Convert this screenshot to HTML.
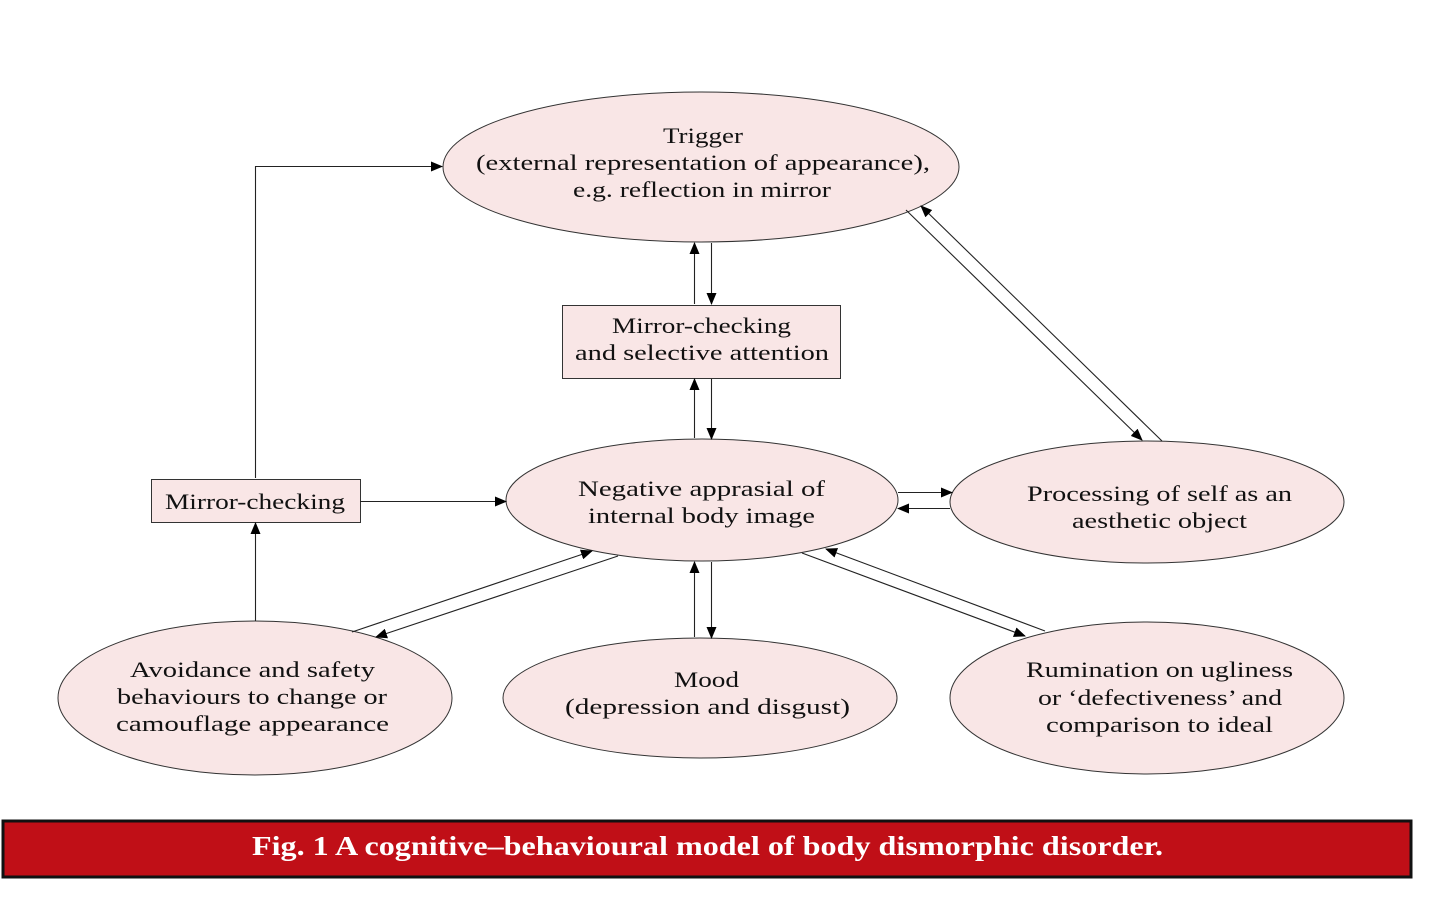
<!DOCTYPE html>
<html><head><meta charset="utf-8"><style>
html,body{margin:0;padding:0;background:#fff;}
svg{display:block;}
text{font-family:"Liberation Serif",serif;font-size:22px;fill:#111;}
</style></head><body>
<svg width="1456" height="913" viewBox="0 0 1456 913" xmlns="http://www.w3.org/2000/svg">
<defs>
<marker id="a" markerWidth="12" markerHeight="10" refX="11" refY="5" orient="auto" markerUnits="userSpaceOnUse">
<path d="M0,0 L12,5 L0,10 z" fill="#000"/></marker>
</defs>
<g fill="#f9e6e6" stroke="#333" stroke-width="1">
<ellipse cx="701" cy="167" rx="258" ry="75"/>
<ellipse cx="702" cy="500" rx="196" ry="61"/>
<ellipse cx="1147" cy="502" rx="197" ry="61"/>
<ellipse cx="255" cy="698" rx="197" ry="77"/>
<ellipse cx="700" cy="698" rx="197" ry="60"/>
<ellipse cx="1147" cy="698" rx="197" ry="76"/>
<rect x="562.5" y="305.5" width="278" height="73"/>
<rect x="151.5" y="479.5" width="209" height="43"/>
</g>
<g stroke="#222" stroke-width="1.1" fill="none" marker-end="url(#a)">
<path d="M255.5,478 V166.5 H442"/>
<path d="M360,501.5 H506"/>
<path d="M255.5,621 V523"/>
<path d="M694.5,304 V243"/>
<path d="M711.5,243 V304"/>
<path d="M694.5,438 V379"/>
<path d="M711.5,379 V439"/>
<path d="M898,492.5 H952"/>
<path d="M950,508.5 H898"/>
<path d="M694.5,637 V562"/>
<path d="M711.5,562 V638"/>
<path d="M352,632 L592,551"/>
<path d="M618,556 L376,637"/>
<path d="M802,553 L1025,636"/>
<path d="M1045,631 L826,549"/>
<path d="M906,210 L1142,440"/>
<path d="M1162,441 L921,206"/>
</g>
<g lengthAdjust="spacingAndGlyphs">
<text x="663" y="143" textLength="80" lengthAdjust="spacingAndGlyphs">Trigger</text>
<text x="476" y="170" textLength="454" lengthAdjust="spacingAndGlyphs">(external representation of appearance),</text>
<text x="573" y="197" textLength="258" lengthAdjust="spacingAndGlyphs">e.g. reflection in mirror</text>
<text x="612" y="333" textLength="179" lengthAdjust="spacingAndGlyphs">Mirror-checking</text>
<text x="575" y="360" textLength="254" lengthAdjust="spacingAndGlyphs">and selective attention</text>
<text x="165" y="509" textLength="180" lengthAdjust="spacingAndGlyphs">Mirror-checking</text>
<text x="578" y="496" textLength="247" lengthAdjust="spacingAndGlyphs">Negative apprasial of</text>
<text x="588" y="523" textLength="227" lengthAdjust="spacingAndGlyphs">internal body image</text>
<text x="1027" y="501" textLength="265" lengthAdjust="spacingAndGlyphs">Processing of self as an</text>
<text x="1072" y="528" textLength="175" lengthAdjust="spacingAndGlyphs">aesthetic object</text>
<text x="130" y="677" textLength="245" lengthAdjust="spacingAndGlyphs">Avoidance and safety</text>
<text x="117" y="704" textLength="270" lengthAdjust="spacingAndGlyphs">behaviours to change or</text>
<text x="116" y="731" textLength="273" lengthAdjust="spacingAndGlyphs">camouflage appearance</text>
<text x="674" y="687" textLength="65" lengthAdjust="spacingAndGlyphs">Mood</text>
<text x="565" y="714" textLength="285" lengthAdjust="spacingAndGlyphs">(depression and disgust)</text>
<text x="1026" y="677" textLength="267" lengthAdjust="spacingAndGlyphs">Rumination on ugliness</text>
<text x="1038" y="705" textLength="244" lengthAdjust="spacingAndGlyphs">or ‘defectiveness’ and</text>
<text x="1046" y="732" textLength="227" lengthAdjust="spacingAndGlyphs">comparison to ideal</text>
</g>
<rect x="3" y="821" width="1408" height="56" fill="#c00f17" stroke="#111" stroke-width="3"/>
<text x="252" y="855" textLength="911" lengthAdjust="spacingAndGlyphs" style="font-size:27px;font-weight:bold;fill:#fff">Fig. 1  A cognitive–behavioural model of body dismorphic disorder.</text>
</svg>
</body></html>
